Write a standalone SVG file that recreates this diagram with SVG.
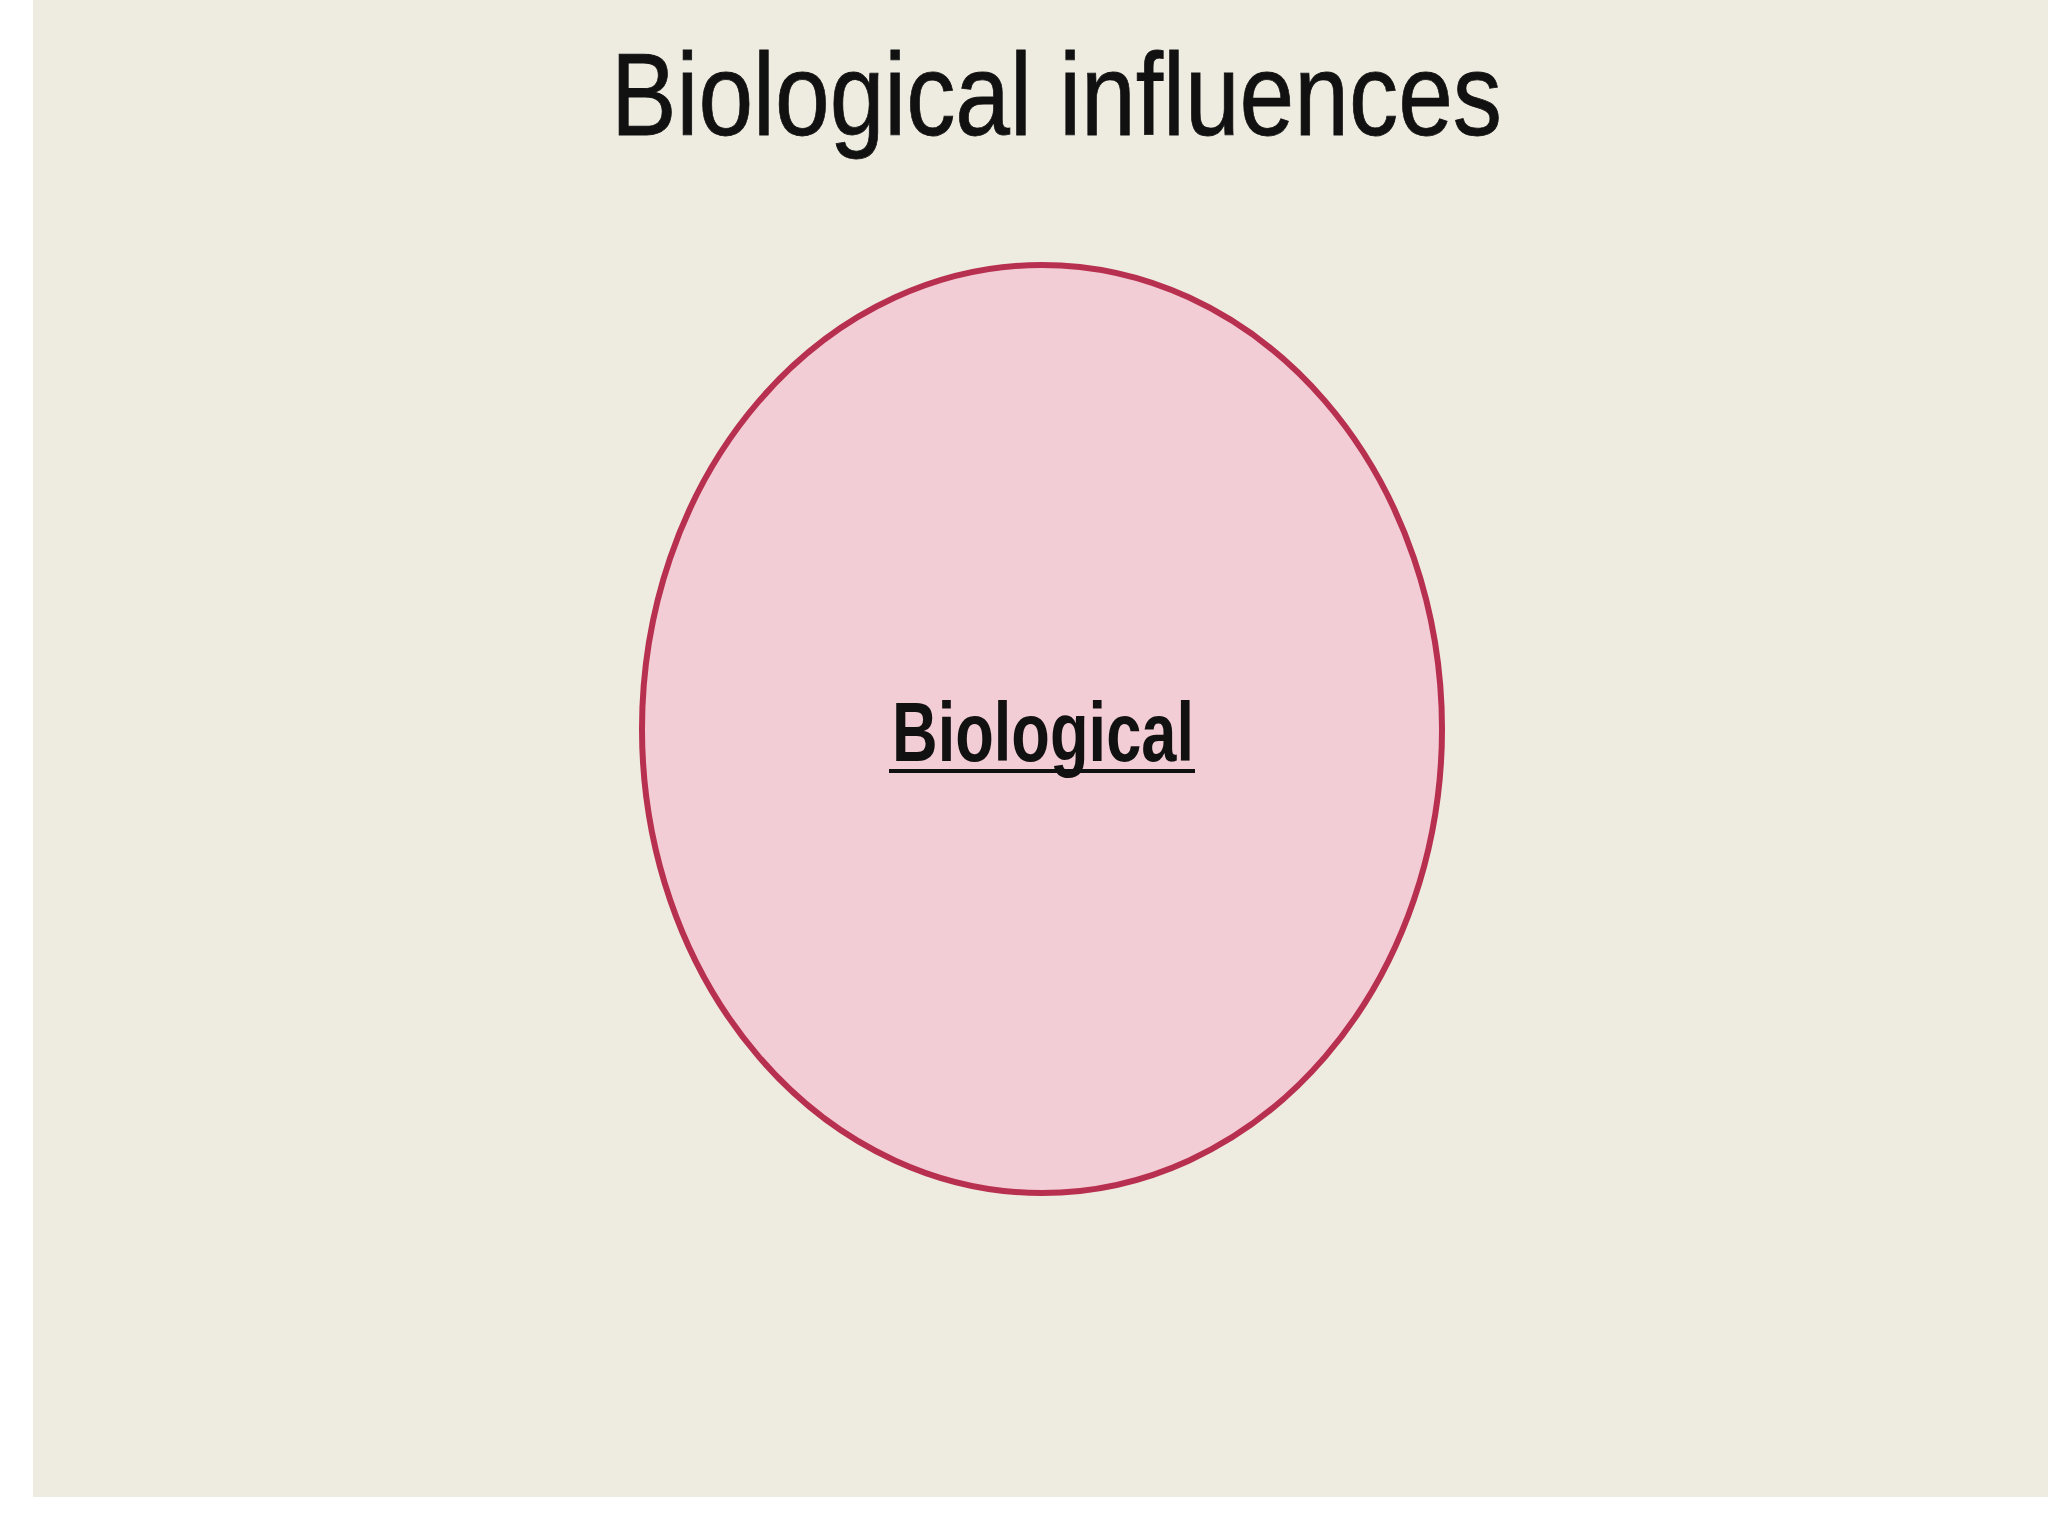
<svg xmlns="http://www.w3.org/2000/svg" width="2048" height="1536" viewBox="0 0 2048 1536">
<style>
.title{font-family:"Liberation Sans Narrow","Liberation Sans",Arial,sans-serif;font-size:116px;fill:#111111;stroke:#111111;stroke-width:0.8}
.label{font-family:"Liberation Sans Narrow","Liberation Sans",Arial,sans-serif;font-size:84px;font-weight:bold;fill:#111111}
</style>
<rect x="0" y="0" width="2048" height="1536" fill="#ffffff"/>
<rect x="33" y="0" width="2015" height="1497" fill="#EEEBE0"/>
<text class="title" x="611" y="135" textLength="891" lengthAdjust="spacingAndGlyphs">Biological influences</text>
<g id="biological">
<ellipse cx="1042" cy="729" rx="400" ry="464" fill="#F3CDD5" stroke="#B8304F" stroke-width="6"/>
<text class="label" x="892" y="761" textLength="302" lengthAdjust="spacingAndGlyphs">Biological</text>
<rect x="889" y="769" width="306" height="4" fill="#111111"/>
</g>
<g id="connectors"/>
</svg>
